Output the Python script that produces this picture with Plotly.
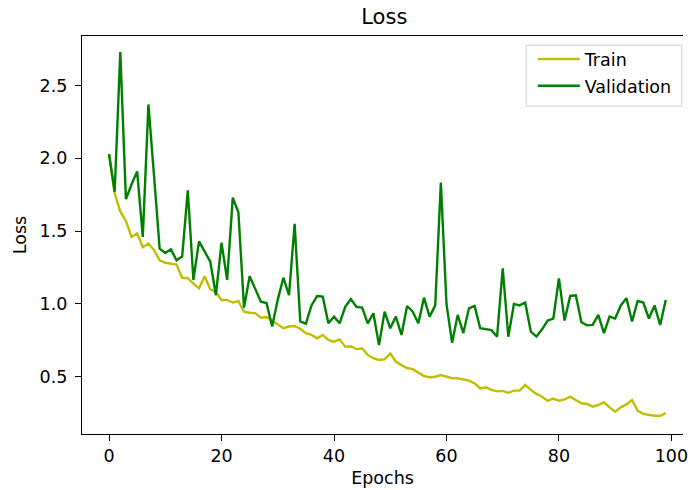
import plotly.graph_objects as go

epochs = list(range(100))

train_loss = [
    2.03, 1.76, 1.635, 1.57, 1.46, 1.485, 1.39, 1.415, 1.37, 1.30,
    1.283, 1.278, 1.27, 1.18, 1.177, 1.14, 1.108, 1.19, 1.10, 1.08,
    1.027, 1.027, 1.01, 1.02, 0.947, 0.94, 0.937, 0.905, 0.91, 0.887,
    0.86, 0.833, 0.845, 0.849, 0.83, 0.80, 0.787, 0.764, 0.787, 0.753,
    0.741, 0.757, 0.707, 0.71, 0.69, 0.696, 0.65, 0.627, 0.615, 0.62,
    0.66, 0.604, 0.58, 0.56, 0.552, 0.526, 0.505, 0.497, 0.50, 0.512,
    0.50, 0.49, 0.49, 0.483, 0.474, 0.455, 0.42, 0.428, 0.41, 0.40,
    0.403, 0.39, 0.405, 0.405, 0.444, 0.41, 0.382, 0.363, 0.336, 0.35,
    0.336, 0.345, 0.363, 0.34, 0.318, 0.313, 0.295, 0.306, 0.325, 0.29,
    0.26, 0.29, 0.31, 0.34, 0.267, 0.245, 0.238, 0.232, 0.232, 0.25,
]

val_loss = [
    2.03, 1.77, 2.73, 1.72, 1.82, 1.91, 1.46, 2.37, 1.88, 1.38,
    1.35, 1.375, 1.30, 1.325, 1.78, 1.165, 1.43, 1.36, 1.29, 1.06,
    1.42, 1.165, 1.73, 1.63, 0.975, 1.19, 1.10, 1.016, 1.006, 0.845,
    1.03, 1.18, 1.06, 1.55, 0.88, 0.865, 0.99, 1.055, 1.05, 0.867,
    0.913, 0.867, 0.98, 1.034, 0.98, 0.975, 0.867, 0.936, 0.718, 0.947,
    0.833, 0.913, 0.787, 0.986, 0.947, 0.867, 1.043, 0.913, 0.99, 1.833,
    1.0, 0.734, 0.925, 0.80, 0.97, 0.986, 0.833, 0.826, 0.82, 0.775,
    1.245, 0.775, 1.0, 0.99, 1.01, 0.81, 0.776, 0.826, 0.886, 0.90,
    1.176, 0.886, 1.055, 1.06, 0.874, 0.853, 0.856, 0.925, 0.80, 0.913,
    0.90, 0.99, 1.04, 0.88, 1.02, 1.01, 0.90, 0.99, 0.856, 1.027,
]

x_ticks = [0, 20, 40, 60, 80, 100]
y_ticks = [0.5, 1.0, 1.5, 2.0, 2.5]

FONT = "DejaVu Sans"
FS = 17.5

fig = go.Figure()
fig.add_trace(go.Scatter(
    x=epochs, y=train_loss, mode="lines", name="Train",
    line=dict(color="#bfbf00", width=2.4), legendgroup="a",
))
fig.add_trace(go.Scatter(
    x=epochs, y=val_loss, mode="lines", name="Validation",
    line=dict(color="#008000", width=2.4), legendgroup="b",
))

# legend frame (matplotlib-style box)
fig.add_shape(type="rect", xref="paper", yref="paper",
              x0=0.739, x1=0.998, y0=0.824, y1=0.977,
              line=dict(color="#d0d0d0", width=1), fillcolor="rgba(255,255,255,0.8)",
              layer="above")

fig.update_layout(
    width=688, height=490,
    margin=dict(l=82, r=0, t=36, b=56),
    paper_bgcolor="white", plot_bgcolor="white",
    font=dict(family=FONT, size=FS, color="#000000"),
    title=dict(text="Loss", x=0.503, xref="paper", xanchor="center",
               y=1 - 16.5 / 490, yanchor="middle",
               font=dict(family=FONT, size=21, color="#000000")),
    showlegend=True,
    legend=dict(x=0.750, y=0.987, xanchor="left", yanchor="top",
                bgcolor="rgba(0,0,0,0)", borderwidth=0,
                font=dict(family=FONT, size=FS, color="#000000"),
                itemwidth=42, tracegroupgap=1),
    xaxis=dict(
        range=[-4.81, 102.06], tickmode="array", tickvals=x_ticks,
        showgrid=False, zeroline=False, ticklabeloverflow="allow",
        showline=True, linecolor="#000000", linewidth=1.2, mirror=True,
        ticks="outside", ticklen=6, tickcolor="#000000", tickwidth=1.2,
        tickfont=dict(family=FONT, size=FS),
        title=dict(text="Epochs", font=dict(family=FONT, size=FS), standoff=6),
    ),
    yaxis=dict(
        range=[0.107, 2.84], tickmode="array", tickvals=y_ticks, tickformat=".1f",
        showgrid=False, zeroline=False,
        showline=True, linecolor="#000000", linewidth=1.2, mirror=False,
        ticks="outside", ticklen=6, tickcolor="#000000", tickwidth=1.2,
        ticklabelstandoff=4,
        tickfont=dict(family=FONT, size=FS),
        title=dict(text="Loss", font=dict(family=FONT, size=FS), standoff=8),
    ),
)

fig.write_html("out.html")
